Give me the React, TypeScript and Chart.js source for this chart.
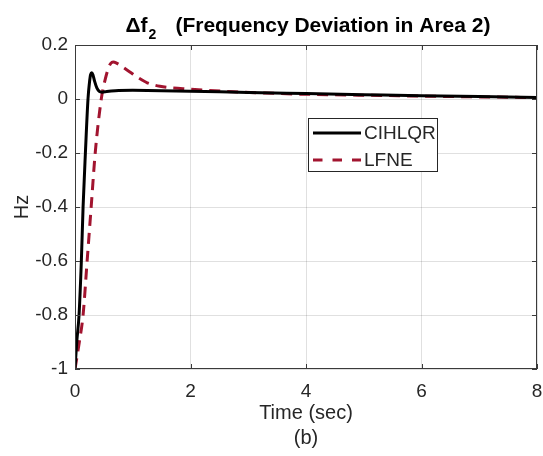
import React, { useEffect, useRef } from 'react';
import { Chart, registerables } from 'chart.js';

Chart.register(...registerables);

// ---- data ----
const cihlqrTime = [0, 0.03, 0.07, 0.11, 0.14, 0.18, 0.225, 0.25, 0.27, 0.29, 0.31, 0.34, 0.38, 0.42, 0.47, 0.55, 0.7, 1.0, 1.5, 2.0, 3.0, 4.0, 5.0, 6.0, 7.0, 8.0];
const cihlqrValues = [-1, -0.9, -0.8, -0.6, -0.4, -0.2, 0, 0.06, 0.09, 0.097, 0.09, 0.065, 0.04, 0.028, 0.025, 0.028, 0.031, 0.032, 0.031, 0.029, 0.024, 0.02, 0.016, 0.012, 0.009, 0.006];

const lfneTime = [0, 0.075, 0.14, 0.21, 0.28, 0.35, 0.455, 0.52, 0.58, 0.62, 0.66, 0.72, 0.8, 0.95, 1.1, 1.25, 1.47, 1.87, 2.3, 2.74, 3.3, 3.9, 4.7, 5.6, 6.5, 7.3, 8.0];
const lfneValues = [-1, -0.9, -0.8, -0.6, -0.4, -0.2, 0, 0.07, 0.115, 0.132, 0.137, 0.133, 0.122, 0.1, 0.078, 0.06, 0.047, 0.038, 0.032, 0.027, 0.022, 0.018, 0.015, 0.012, 0.009, 0.007, 0.005];

const seriesLabels = ['CIHLQR', 'LFNE'];
const xRange = [0, 8];
const yRange = [-1, 0.2];
const xStep = 2;
const yStep = 0.2;
const titleMain = 'Δf';
const titleSub = '2';
const titleRest = '(Frequency Deviation in Area 2)';
const xLabel = ['Time (sec)', '(b)'];
const yLabel = 'Hz';

const FONT = '"Liberation Sans", Arial, Helvetica, sans-serif';
const TXT = '#262626';
const RED = '#A2142F';

const framePlugin = {
  id: 'frameAndExtras',
  afterDraw(chart: any) {
    const { ctx, chartArea: a } = chart;
    const xs = chart.scales.x;
    const ys = chart.scales.y;
    ctx.save();
    // box
    ctx.strokeStyle = '#3a3a3a';
    ctx.lineWidth = 1;
    ctx.strokeRect(Math.round(a.left) + 0.5, Math.round(a.top) + 0.5, Math.round(a.width) - 1, Math.round(a.height) - 1);
    // inner tick marks
    const tl = 5;
    ctx.beginPath();
    xs.ticks.forEach((t: any) => {
      const px = Math.round(xs.getPixelForValue(t.value)) + 0.5;
      ctx.moveTo(px, a.bottom); ctx.lineTo(px, a.bottom - tl);
      ctx.moveTo(px, a.top); ctx.lineTo(px, a.top + tl);
    });
    ys.ticks.forEach((t: any) => {
      const py = Math.round(ys.getPixelForValue(t.value)) + 0.5;
      ctx.moveTo(a.left, py); ctx.lineTo(a.left + tl, py);
      ctx.moveTo(a.right, py); ctx.lineTo(a.right - tl, py);
    });
    ctx.stroke();

    // title
    const bigFont = `bold 21px ${FONT}`;
    const subFont = `bold 14px ${FONT}`;
    ctx.fillStyle = '#000';
    ctx.textBaseline = 'alphabetic';
    ctx.textAlign = 'left';
    ctx.font = bigFont;
    const w1 = ctx.measureText(titleMain).width;
    const w3 = ctx.measureText(titleRest).width;
    ctx.font = subFont;
    const w2 = ctx.measureText(titleSub).width;
    const gap = 20;
    const total = w1 + w2 + gap + w3;
    const cx = (a.left + a.right) / 2 + 2;
    const x0 = cx - total / 2;
    const baseY = 32;
    ctx.font = bigFont;
    ctx.fillText(titleMain, x0, baseY);
    ctx.font = subFont;
    ctx.fillText(titleSub, x0 + w1 + 1, baseY + 7);
    ctx.font = bigFont;
    ctx.fillText(titleRest, x0 + w1 + w2 + gap, baseY);

    // legend
    const lx = a.left + 233;
    const ly = a.top + 73;
    const lw = 129;
    const lh = 53;
    ctx.fillStyle = '#fff';
    ctx.fillRect(lx, ly, lw, lh);
    ctx.strokeStyle = '#262626';
    ctx.lineWidth = 1;
    ctx.strokeRect(lx + 0.5, ly + 0.5, lw, lh);
    const rows = [
      { label: chart.data.datasets[0].label, color: '#000', dash: [] as number[], y: ly + 15 },
      { label: chart.data.datasets[1].label, color: RED, dash: [9.5, 10], y: ly + 42 },
    ];
    rows.forEach((r) => {
      ctx.beginPath();
      ctx.setLineDash(r.dash);
      ctx.strokeStyle = r.color;
      ctx.lineWidth = 3;
      ctx.moveTo(lx + 5, r.y);
      ctx.lineTo(lx + 53, r.y);
      ctx.stroke();
      ctx.setLineDash([]);
      ctx.fillStyle = TXT;
      ctx.font = `19px ${FONT}`;
      ctx.textBaseline = 'middle';
      ctx.fillText(r.label, lx + 56, r.y + 1);
    });
    ctx.restore();
  },
};

export default function App() {
  const ref = useRef<HTMLCanvasElement | null>(null);
  useEffect(() => {
    if (!ref.current) return;
    const chart = new Chart(ref.current, {
      type: 'line',
      data: {
        datasets: [
          {
            label: seriesLabels[0],
            data: cihlqrTime.map((t, i) => ({ x: t, y: cihlqrValues[i] })),
            borderColor: '#000',
            borderWidth: 3,
            pointRadius: 0,
            cubicInterpolationMode: 'monotone',
            fill: false,
          },
          {
            label: seriesLabels[1],
            data: lfneTime.map((t, i) => ({ x: t, y: lfneValues[i] })),
            borderColor: RED,
            borderWidth: 3,
            borderDash: [11, 7],
            pointRadius: 0,
            cubicInterpolationMode: 'monotone',
            fill: false,
          },
        ],
      },
      options: {
        responsive: false,
        animation: false,
        layout: { padding: { top: 45, right: 6, left: 0, bottom: 0 } },
        plugins: { legend: { display: false }, tooltip: { enabled: false }, title: { display: false } },
        scales: {
          x: {
            type: 'linear',
            min: xRange[0],
            max: xRange[1],
            border: { display: false },
            grid: { color: 'rgba(0,0,0,0.12)', drawTicks: false },
            ticks: { stepSize: xStep, color: TXT, font: { family: FONT, size: 19 }, padding: 11, maxRotation: 0 },
            title: { display: true, text: xLabel, color: TXT, font: { family: FONT, size: 20, lineHeight: 1.25 }, padding: { top: 0, bottom: 5 } },
            afterFit: (s: any) => { s.height = 87; s.paddingLeft = 0; s.paddingRight = 0; },
          },
          y: {
            type: 'linear',
            min: yRange[0],
            max: yRange[1],
            border: { display: false },
            grid: { color: 'rgba(0,0,0,0.12)', drawTicks: false },
            ticks: {
              stepSize: yStep,
              color: TXT,
              font: { family: FONT, size: 19 },
              padding: 7,
              callback: (v: any) => String(Math.round(Number(v) * 10) / 10),
            },
            title: { display: true, text: yLabel, color: TXT, font: { family: FONT, size: 20, lineHeight: 1.2 }, padding: { top: 10, bottom: 0 } },
            afterFit: (s: any) => { s.width = 75; s.paddingTop = 0; s.paddingBottom = 0; },
          },
        },
      },
      plugins: [framePlugin],
    } as any);
    return () => chart.destroy();
  }, []);
  return (
    <canvas
      ref={ref}
      width={543}
      height={456}
      style={{ position: 'absolute', left: 0, top: 0, width: 543, height: 456, background: '#fff' }}
    />
  );
}
